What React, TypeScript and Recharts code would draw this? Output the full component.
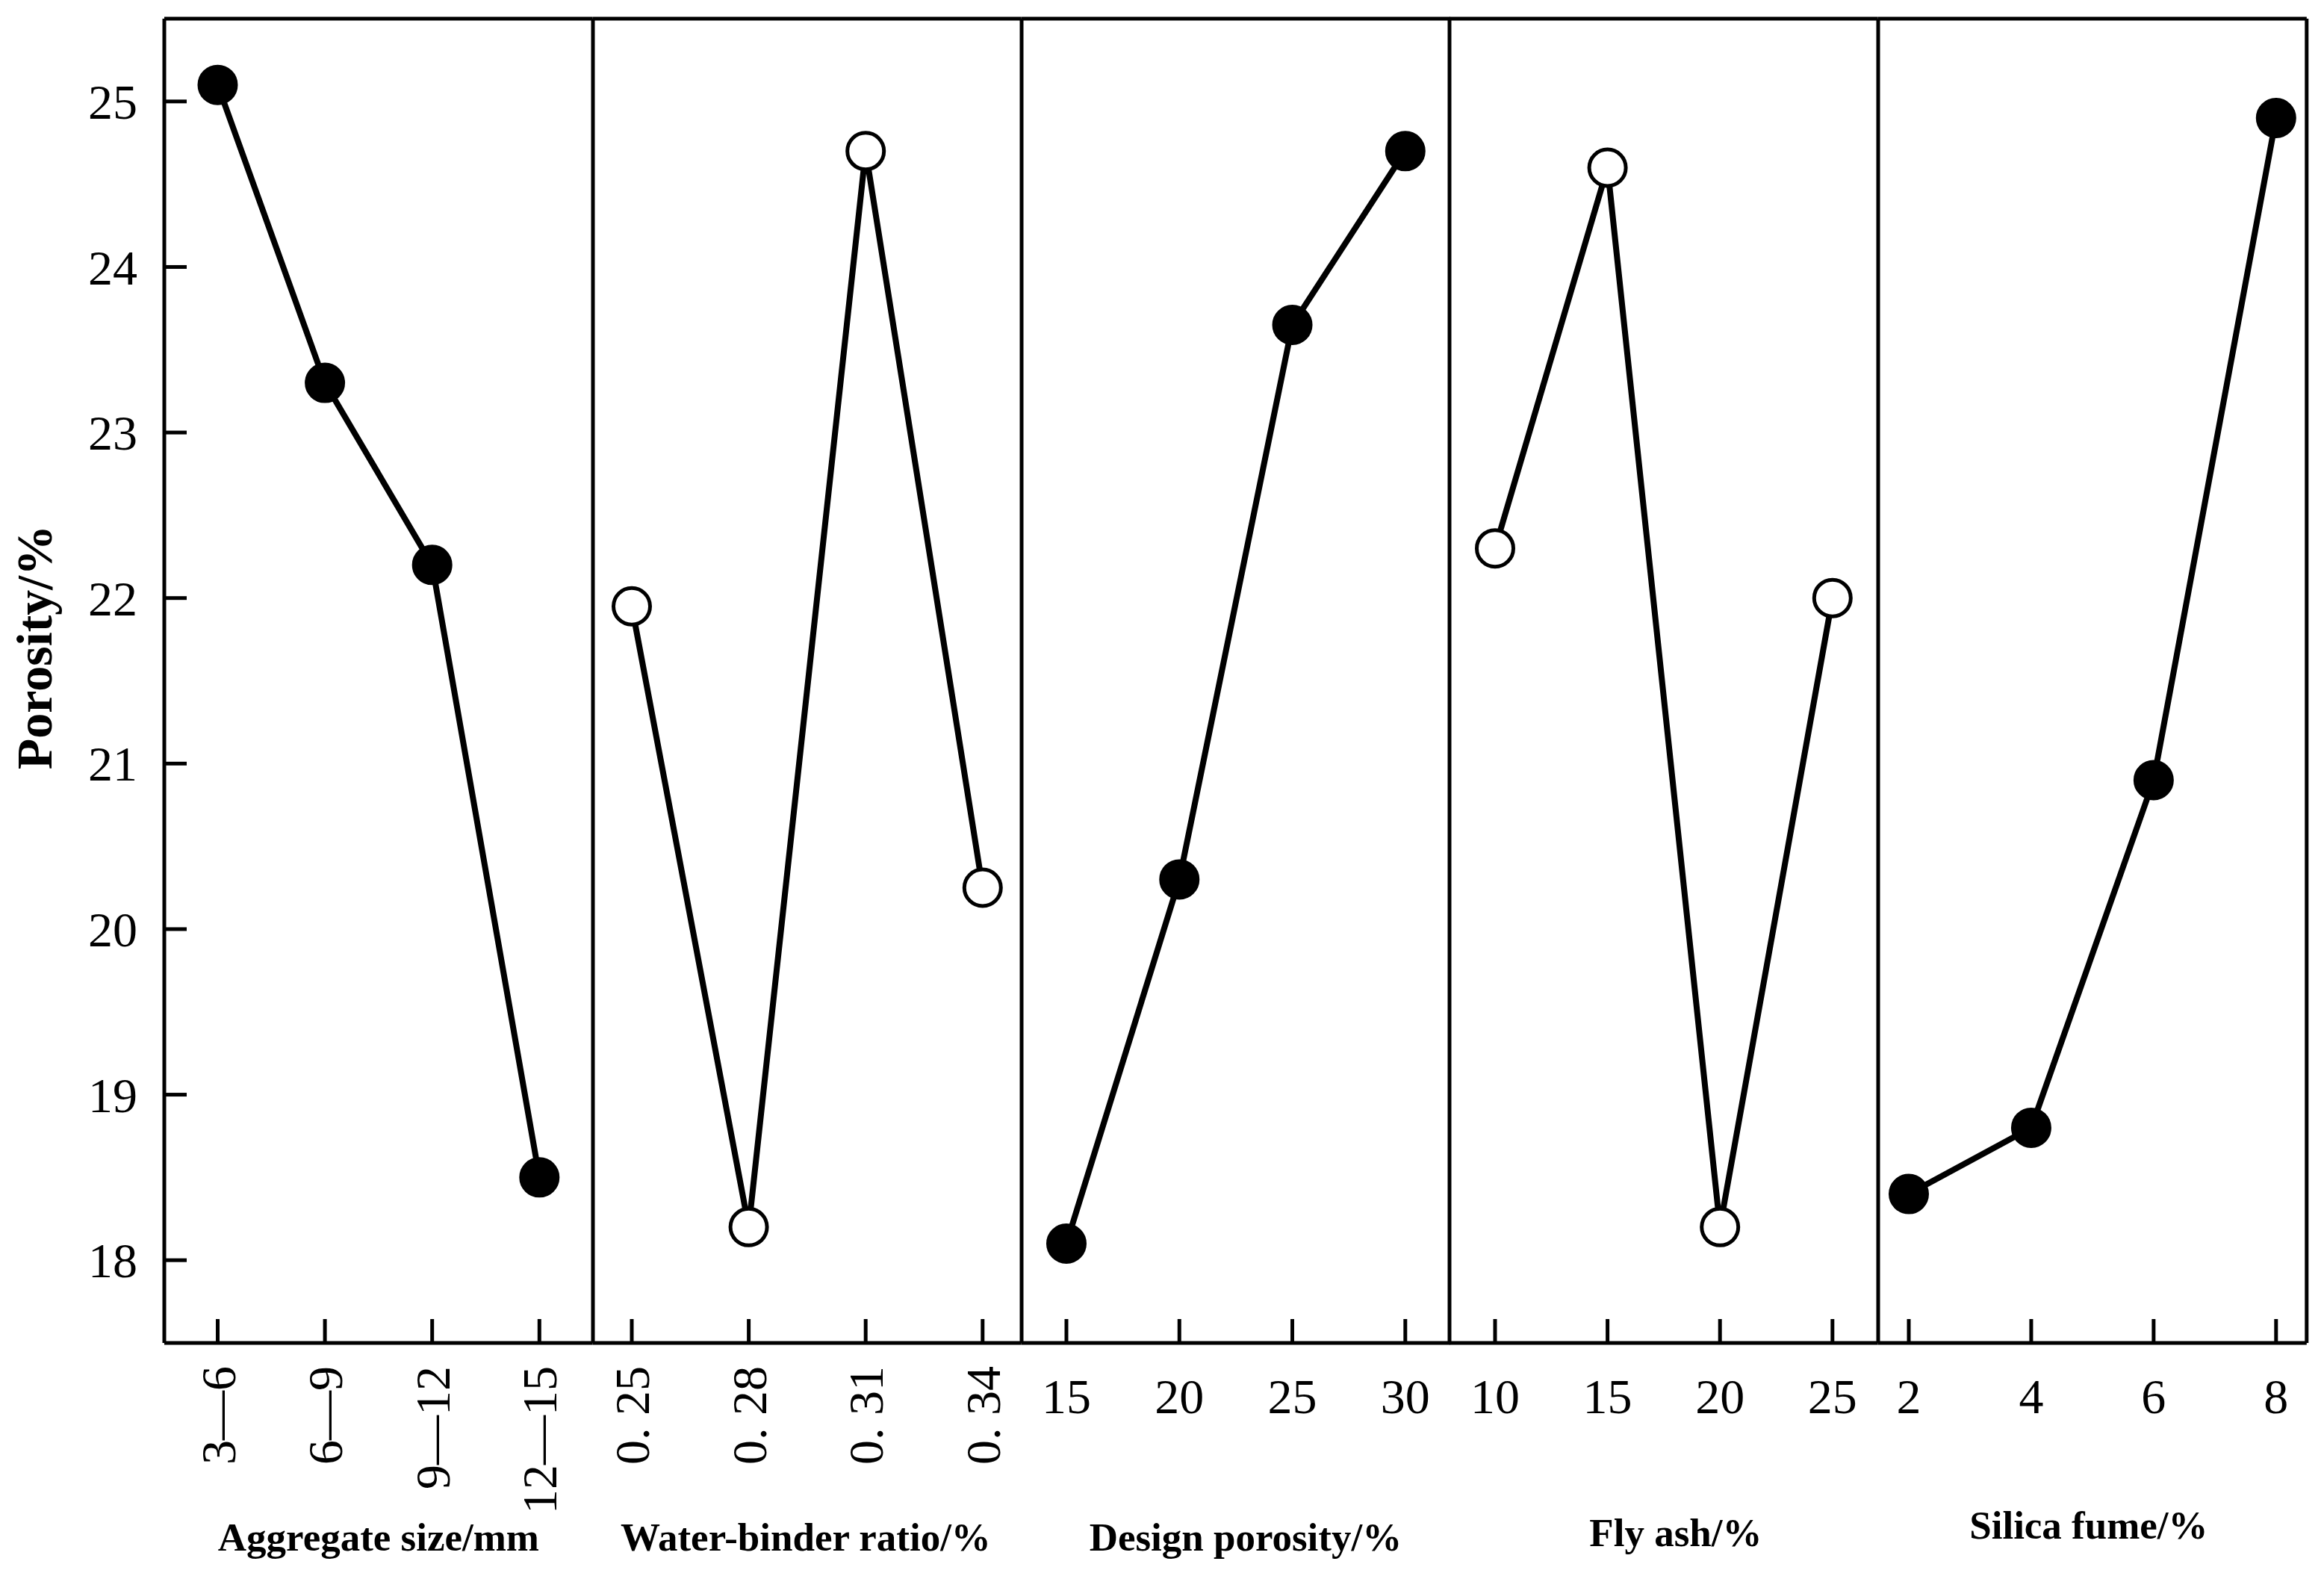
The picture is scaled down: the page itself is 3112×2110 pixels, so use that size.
import { LineChart, Line, XAxis, YAxis } from "recharts";

const FONT = '"Liberation Serif", "Times New Roman", serif';

const aggregateSizes = ["3—6", "6—9", "9—12", "12—15"];
const aggregatePorosity = [25.1, 23.3, 22.2, 18.5];

const waterBinderRatios = ["0. 25", "0. 28", "0. 31", "0. 34"];
const waterBinderPorosity = [21.95, 18.2, 24.7, 20.25];

const designPorosities = ["15", "20", "25", "30"];
const designPorosityPorosity = [18.1, 20.3, 23.65, 24.7];

const flyAshLevels = ["10", "15", "20", "25"];
const flyAshPorosity = [22.3, 24.6, 18.2, 22.0];

const silicaFumeLevels = ["2", "4", "6", "8"];
const silicaFumePorosity = [18.4, 18.8, 20.9, 24.9];

const yTicks = [18, 19, 20, 21, 22, 23, 24, 25];

// layout
const H = 2110;
const TOP = 25;
const AXIS_H = 312;
const Y_AXIS_W = 220;
const PANEL_W = 573.8;
const EDGE = 6;
const LINE_W = 5;

const panels = [
  { title: "Aggregate size/mm", cats: aggregateSizes, vals: aggregatePorosity, hollow: false, rotate: true, pad: 71.5, titleDx: 0, titleY: 2076 },
  { title: "Water-binder ratio/%", cats: waterBinderRatios, vals: waterBinderPorosity, hollow: true, rotate: true, pad: 52, titleDx: -2, titleY: 2076 },
  { title: "Design porosity/%", cats: designPorosities, vals: designPorosityPorosity, hollow: false, rotate: false, pad: 60, titleDx: 13, titleY: 2076 },
  { title: "Fly ash/%", cats: flyAshLevels, vals: flyAshPorosity, hollow: true, rotate: false, pad: 61, titleDx: 16, titleY: 2070 },
  { title: "Silica fume/%", cats: silicaFumeLevels, vals: silicaFumePorosity, hollow: false, rotate: false, pad: 41, titleDx: -5, titleY: 2060 },
];

const makeXTick = (rotate: boolean) => (props: any) => {
  const { x, y, payload } = props;
  return (
    <g>
      <line x1={x} y1={y} x2={x} y2={y - 32} stroke="#000" strokeWidth={LINE_W} />
      {rotate ? (
        <text
          x={x}
          y={y + 31}
          transform={`rotate(-90 ${x} ${y + 31})`}
          textAnchor="end"
          dy="0.35em"
          fontFamily={FONT}
          fontSize={66}
          fill="#000"
        >
          {payload.value}
        </text>
      ) : (
        <text x={x} y={y + 94} textAnchor="middle" fontFamily={FONT} fontSize={66} fill="#000">
          {payload.value}
        </text>
      )}
    </g>
  );
};

const YTick = (props: any) => {
  const { x, y, payload } = props;
  return (
    <g>
      <line x1={x} y1={y} x2={x + 30} y2={y} stroke="#000" strokeWidth={LINE_W} />
      <text x={x - 36} y={y} dy="0.35em" textAnchor="end" fontFamily={FONT} fontSize={66} fill="#000">
        {payload.value}
      </text>
    </g>
  );
};

const makeTitle = (title: string, dx: number, baseY: number) => (props: any) => {
  const vb = props.viewBox;
  return (
    <text
      x={vb.x + vb.width / 2 + dx}
      y={baseY}
      textAnchor="middle"
      fontFamily={FONT}
      fontWeight="bold"
      fontSize={53}
      fill="#000"
    >
      {title}
    </text>
  );
};

const YTitle = (props: any) => {
  const vb = props.viewBox;
  const cx = 45;
  const cy = vb.y + vb.height / 2 - 45;
  return (
    <text
      x={cx}
      y={cy}
      transform={`rotate(-90 ${cx} ${cy})`}
      textAnchor="middle"
      dy="0.35em"
      fontFamily={FONT}
      fontWeight="bold"
      fontSize={68}
      fill="#000"
    >
      Porosity/%
    </text>
  );
};

export default function App() {
  return (
    <div style={{ position: "absolute", left: 0, top: 0, width: 3112, height: H, background: "#fff" }}>
      {panels.map((p, i) => {
        const data = p.cats.map((c, j) => ({ label: c, value: p.vals[j] }));
        const first = i === 0;
        const last = i === panels.length - 1;
        const panelLeft = Y_AXIS_W + i * PANEL_W;
        const left = first ? 0 : panelLeft - EDGE;
        const width = first ? Y_AXIS_W + PANEL_W + EDGE : PANEL_W + 2 * EDGE;
        return (
          <div key={p.title} style={{ position: "absolute", left, top: 0 }}>
            <LineChart
              width={width}
              height={H}
              data={data}
              margin={{ top: TOP - 1, right: last ? EDGE - 1 : EDGE, bottom: 0, left: first ? 0 : EDGE - 1 }}
            >
              <XAxis
                dataKey="label"
                type="category"
                scale="point"
                padding={{ left: p.pad, right: p.pad }}
                height={AXIS_H}
                axisLine={{ stroke: "#000", strokeWidth: LINE_W }}
                tickLine={false}
                tickSize={0}
                tickMargin={0}
                interval={0}
                tick={makeXTick(p.rotate)}
                label={{ content: makeTitle(p.title, p.titleDx, p.titleY) }}
              />
              <XAxis
                xAxisId="top"
                dataKey="label"
                orientation="top"
                height={1}
                tick={false}
                tickLine={false}
                axisLine={{ stroke: "#000", strokeWidth: LINE_W }}
              />
              <YAxis
                type="number"
                domain={[17.5, 25.5]}
                ticks={yTicks}
                interval={0}
                width={first ? Y_AXIS_W : 1}
                axisLine={{ stroke: "#000", strokeWidth: LINE_W }}
                tickLine={false}
                tickSize={0}
                tickMargin={0}
                tick={first ? YTick : false}
                label={first ? { content: YTitle } : undefined}
              />
              {last && (
                <YAxis
                  yAxisId="right"
                  orientation="right"
                  type="number"
                  domain={[17.5, 25.5]}
                  width={1}
                  tick={false}
                  tickLine={false}
                  axisLine={{ stroke: "#000", strokeWidth: LINE_W }}
                />
              )}
              <Line
                type="linear"
                dataKey="value"
                stroke="#000"
                strokeWidth={8}
                dot={{ r: 24.5, fill: p.hollow ? "#fff" : "#000", stroke: "#000", strokeWidth: 5 }}
                activeDot={false}
                isAnimationActive={false}
              />
            </LineChart>
          </div>
        );
      })}
    </div>
  );
}
